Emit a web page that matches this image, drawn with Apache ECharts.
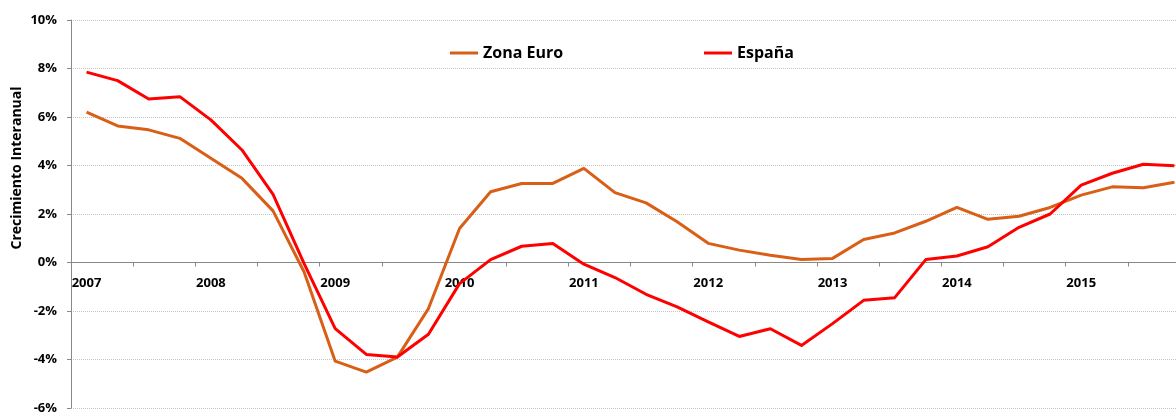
<!DOCTYPE html>
<html>
<head>
<meta charset="utf-8">
<script src="https://cdn.jsdelivr.net/npm/echarts@6/dist/echarts.min.js"></script>
<style>
html,body{margin:0;padding:0;background:#fff;}
#chart{width:1176px;height:412px;}
</style>
</head>
<body>
<div id="chart"></div>
<script>
const categories = [
  '2007 T1','2007 T2','2007 T3','2007 T4',
  '2008 T1','2008 T2','2008 T3','2008 T4',
  '2009 T1','2009 T2','2009 T3','2009 T4',
  '2010 T1','2010 T2','2010 T3','2010 T4',
  '2011 T1','2011 T2','2011 T3','2011 T4',
  '2012 T1','2012 T2','2012 T3','2012 T4',
  '2013 T1','2013 T2','2013 T3','2013 T4',
  '2014 T1','2014 T2','2014 T3','2014 T4',
  '2015 T1','2015 T2','2015 T3','2015 T4'
];
const zonaEuro = [
  6.20, 5.63, 5.47, 5.12,
  4.30, 3.47, 2.13, -0.39,
  -4.07, -4.52, -3.90, -1.90,
  1.40, 2.92, 3.26, 3.26,
  3.88, 2.88, 2.46, 1.68,
  0.79, 0.51, 0.30, 0.12,
  0.17, 0.95, 1.22, 1.70,
  2.27, 1.78, 1.91, 2.27,
  2.78, 3.12, 3.08, 3.31
];
const espana = [
  7.85, 7.50, 6.74, 6.84,
  5.88, 4.64, 2.81, -0.05,
  -2.73, -3.79, -3.90, -2.96,
  -0.87, 0.12, 0.67, 0.78,
  -0.07, -0.62, -1.31, -1.83,
  -2.45, -3.05, -2.73, -3.42,
  -2.52, -1.56, -1.45, 0.12,
  0.27, 0.65, 1.45, 2.00,
  3.19, 3.68, 4.05, 3.99
];
const seriesNames = ['Zona Euro', 'España'];
const yTitle = 'Crecimiento Interanual';
const yMin = -6, yMax = 10, yStep = 2;

const FONT = '"Open Sans", "DejaVu Sans", sans-serif';
const GRID_TOP = 20, GRID_BOTTOM = 4, H = 412;
const plotH = H - GRID_TOP - GRID_BOTTOM;
// distance from the bottom edge of the plot up to the zero line
const zeroOffset = plotH * (0 - yMin) / (yMax - yMin);

const chart = echarts.init(document.getElementById('chart'), null, {renderer: 'canvas'});
chart.setOption({
  animation: false,
  backgroundColor: '#ffffff',
  textStyle: {fontFamily: FONT},
  grid: {left: 71, top: GRID_TOP, right: -14, bottom: GRID_BOTTOM, containLabel: false, outerBoundsMode: 'none'},
  legend: [
    {
      data: [seriesNames[0]], left: 450, top: 45, padding: 0,
      icon: 'rect', itemWidth: 28, itemHeight: 3, itemGap: 0,
      textStyle: {fontFamily: FONT, fontSize: 16, fontWeight: 'bold', color: '#000'}
    },
    {
      data: [seriesNames[1]], left: 704, top: 45, padding: 0,
      icon: 'rect', itemWidth: 28, itemHeight: 3, itemGap: 0,
      textStyle: {fontFamily: FONT, fontSize: 16, fontWeight: 'bold', color: '#000'}
    }
  ],
  xAxis: [
    {
      type: 'category',
      data: categories,
      boundaryGap: true,
      axisLine: {onZero: true, lineStyle: {color: '#888888', width: 1}},
      axisTick: {show: true, interval: 1, length: 4, lineStyle: {color: '#888888'}},
      axisLabel: {show: false},
      splitLine: {show: false}
    },
    {
      type: 'category',
      data: categories,
      boundaryGap: true,
      position: 'bottom',
      offset: -zeroOffset,
      axisLine: {show: false, onZero: false},
      axisTick: {show: false},
      axisLabel: {
        interval: 3, margin: 14,
        fontFamily: FONT, fontSize: 13, fontWeight: 'bold', color: '#000',
        formatter: function (v) { return v.slice(0, 4); }
      },
      splitLine: {show: false}
    }
  ],
  yAxis: {
    type: 'value',
    min: yMin, max: yMax, interval: yStep,
    axisLine: {show: true, lineStyle: {color: '#888888', width: 1}},
    axisTick: {show: true, length: 4, lineStyle: {color: '#888888'}},
    axisLabel: {
      margin: 14, fontFamily: FONT, fontSize: 13, fontWeight: 'bold', color: '#000',
      formatter: function (v) { return v + '%'; }
    },
    splitLine: {show: true, lineStyle: {color: '#c4c4c4', type: 'dotted', width: 1}}
  },
  graphic: [{
    type: 'text',
    x: 17, y: 168,
    rotation: Math.PI / 2,
    style: {
      text: yTitle,
      font: 'bold 14px ' + FONT,
      fill: '#000',
      align: 'center',
      verticalAlign: 'middle'
    }
  }],
  series: [
    {
      name: seriesNames[0], type: 'line', data: zonaEuro,
      showSymbol: false, symbol: 'none',
      lineStyle: {color: '#D95F17', width: 3, join: 'round'},
      itemStyle: {color: '#D95F17'}
    },
    {
      name: seriesNames[1], type: 'line', data: espana,
      showSymbol: false, symbol: 'none',
      lineStyle: {color: '#FF0000', width: 3, join: 'round'},
      itemStyle: {color: '#FF0000'}
    }
  ]
});
</script>
</body>
</html>
